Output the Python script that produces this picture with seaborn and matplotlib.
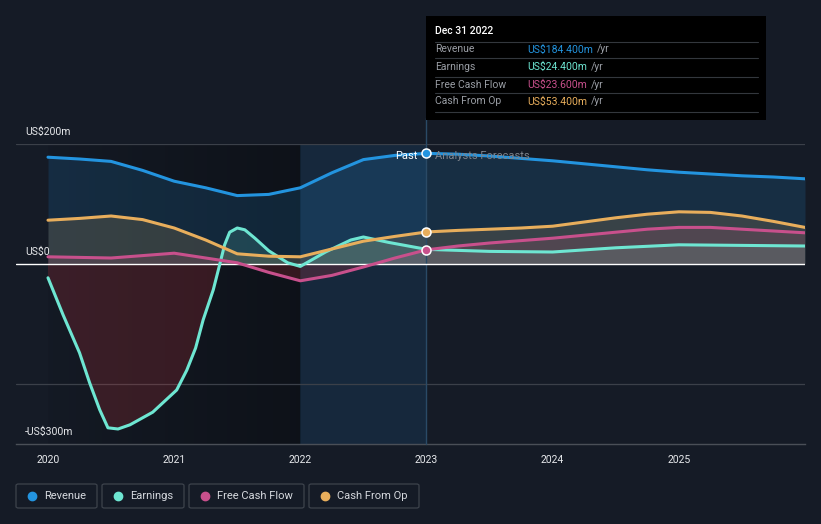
import seaborn as sns
import matplotlib.pyplot as plt
from matplotlib.patches import FancyBboxPatch, Rectangle
import numpy as np

sns.set_style('dark')
plt.rcParams['font.family'] = ['Roboto', 'DejaVu Sans']

# // values, US$m
quarters = [2020.0, 2020.25, 2020.5, 2020.75, 2021.0, 2021.25, 2021.5, 2021.75,
            2022.0, 2022.25, 2022.5, 2022.75, 2023.0, 2023.25, 2023.5, 2023.75,
            2024.0, 2024.25, 2024.5, 2024.75, 2025.0, 2025.25, 2025.5, 2025.75, 2026.0]
revenue = [178, 175, 171, 156, 138, 127, 114, 116, 127, 152, 174, 181, 184.4,
           183, 180, 176, 172, 167, 162, 157, 153, 150, 147, 145, 142]
fcf = [12, 11, 10, 14, 18, 10, 2, -14, -28, -19, -5, 10, 23.6,
       30, 35, 39, 43, 48, 53, 58, 61, 61, 58, 55, 52]
cfo = [73, 76, 80, 74, 60, 40, 17, 13, 12, 25, 38, 46, 53.4,
       56, 58, 60, 63, 70, 77, 83, 87, 86, 80, 71, 61]

earn_x = [2020.0, 2020.12, 2020.25, 2020.33, 2020.41, 2020.475, 2020.555, 2020.65,
          2020.83, 2021.02, 2021.1, 2021.17, 2021.23, 2021.31, 2021.35, 2021.4,
          2021.44, 2021.5, 2021.56, 2021.64, 2021.75, 2021.9, 2022.0, 2022.2,
          2022.4, 2022.5, 2022.7, 2023.0, 2023.5, 2024.0, 2024.5, 2025.0, 2025.5, 2026.0]
earnings = [-23, -85, -148, -198, -243, -273, -275, -268,
            -247, -210, -177, -140, -93, -43, -10, 32,
            53, 60, 57, 43, 22, 2, -4, 20,
            40, 45, 36, 24.4, 21, 20, 27, 32, 31, 30]

names = ['Revenue', 'Earnings', 'Free Cash Flow', 'Cash From Op']
colors = ['#2394df', '#6ee6d2', '#c8508c', '#e8ae5c']
last_vals = ['US$184.400m', 'US$24.400m', 'US$23.600m', 'US$53.400m']

bg = '#151b26'
W, H = 821, 524
fig = plt.figure(figsize=(W / 100, H / 100), dpi=100, facecolor=bg)
ax = fig.add_axes([16 / W, 80 / H, 789 / W, 300 / H], facecolor=bg)
x0 = 2020 - 32 / 126.2
ax.set_xlim(x0, 2026)
ax.set_ylim(-300, 200)

# past shading, darker towards 2022
grad = np.zeros((2, 256, 4))
grad[..., 3] = np.linspace(0.05, 0.35, 256)
ax.imshow(grad, extent=[2020, 2022, -300, 200], aspect='auto', zorder=0.5, interpolation='bilinear')
ax.axvspan(2022, 2023, color='#1f5f95', alpha=0.2, lw=0, zorder=0.6)

# grid
for yv in [200, -200]:
    ax.axhline(yv, color='#3b4049', lw=0.9, zorder=1)
ax.axhline(0, color='white', lw=1.0, zorder=4)

series = [(quarters, revenue), (earn_x, earnings), (quarters, fcf), (quarters, cfo)]
for (xs, ys), c in zip(series, colors):
    xs = np.array(xs)
    ys = np.array(ys, dtype=float)
    ax.fill_between(xs, ys, 0, where=ys >= 0, interpolate=True, color=c, alpha=0.16, lw=0, zorder=2)
    ax.fill_between(xs, ys, 0, where=ys < 0, interpolate=True, color='#d9363e', alpha=0.2, lw=0, zorder=2)
    sns.lineplot(x=xs, y=ys, color=c, lw=2.2, ax=ax, zorder=5)

# markers at 2023
for i in [0, 3, 2]:
    ax.scatter([2023], [series[i][1][12]], s=42, color=colors[i], edgecolor='white', lw=1.1, zorder=7)

ax.plot([2023, 2023], [-300, 244], color='#2a4a66', lw=1, zorder=3, clip_on=False)

ax.text(2023 - 0.07, 180, 'Past', color='white', fontsize=8, ha='right', va='center', zorder=8)
ax.text(2023 + 0.07, 180, 'Analysts Forecasts', color='#7d838c', fontsize=8, ha='left', va='center', zorder=8)

# axes cosmetics
for s in ['top', 'right', 'left']:
    ax.spines[s].set_visible(False)
ax.spines['bottom'].set_color('#4a4f57')
ax.spines['bottom'].set_linewidth(1)
ax.set_yticks([])
ax.set_xticks([2020, 2021, 2022, 2023, 2024, 2025])
ax.set_xticklabels(['2020', '2021', '2022', '2023', '2024', '2025'])
ax.tick_params(axis='x', colors='#4a4f57', length=3, width=1, pad=5, labelsize=7.5, labelcolor='#e6e8eb')
ax.grid(False)

for yv, lab in [(200, 'US$200m'), (0, 'US$0'), (-300, '-US$300m')]:
    ax.text(x0 + 9 / 126.2, yv + 20, lab, color='#e6e8eb', fontsize=7.5,
            ha='left', va='center', zorder=8)

# tooltip
def fx(px):
    return px / W

def fy(py):
    return 1 - py / H

fig.patches.append(Rectangle((fx(426), fy(120)), fx(766) - fx(426), fy(16) - fy(120),
                             transform=fig.transFigure, facecolor='black', edgecolor='none', zorder=10))
fig.text(fx(435), fy(31), 'Dec 31 2022', color='white', fontsize=7.5, va='center', zorder=11, weight='medium')
for ly in [42, 58, 77, 93, 112]:
    fig.add_artist(plt.Line2D([fx(435), fx(758)], [fy(ly), fy(ly)], color='#33373d', lw=0.8, zorder=11))
renderer = fig.canvas.get_renderer()
for i, (nm, val, c) in enumerate(zip(names, last_vals, colors)):
    yy = fy([49.5, 66.5, 84.5, 101.5][i])
    fig.text(fx(435), yy, nm, color='#9a9ea5', fontsize=7.5, va='center', zorder=11)
    t = fig.text(fx(527), yy, val, color=c, fontsize=7.5, va='center', zorder=11)
    bb = t.get_window_extent(renderer)
    fig.text(bb.x1 / W + fx(4), yy, '/yr', color='#9a9ea5', fontsize=7.5, va='center', zorder=11)

# legend boxes
boxes = [(16, 97), (102, 184), (189, 304), (309, 419)]
for (l, r), nm, c in zip(boxes, names, colors):
    fig.patches.append(FancyBboxPatch((fx(l), fy(508)), fx(r) - fx(l), fy(484) - fy(508),
                                      boxstyle='round,pad=0,rounding_size=0.003',
                                      transform=fig.transFigure, facecolor='none',
                                      edgecolor='#3d434c', lw=0.9))
    fig.add_artist(plt.Line2D([fx(l + 16)], [fy(496)], marker='o', markersize=6, color=c, lw=0))
    fig.text(fx(l + 28), fy(496), nm, color='#d6d9de', fontsize=8, va='center')

plt.savefig('out.png', dpi=100, facecolor=bg)
